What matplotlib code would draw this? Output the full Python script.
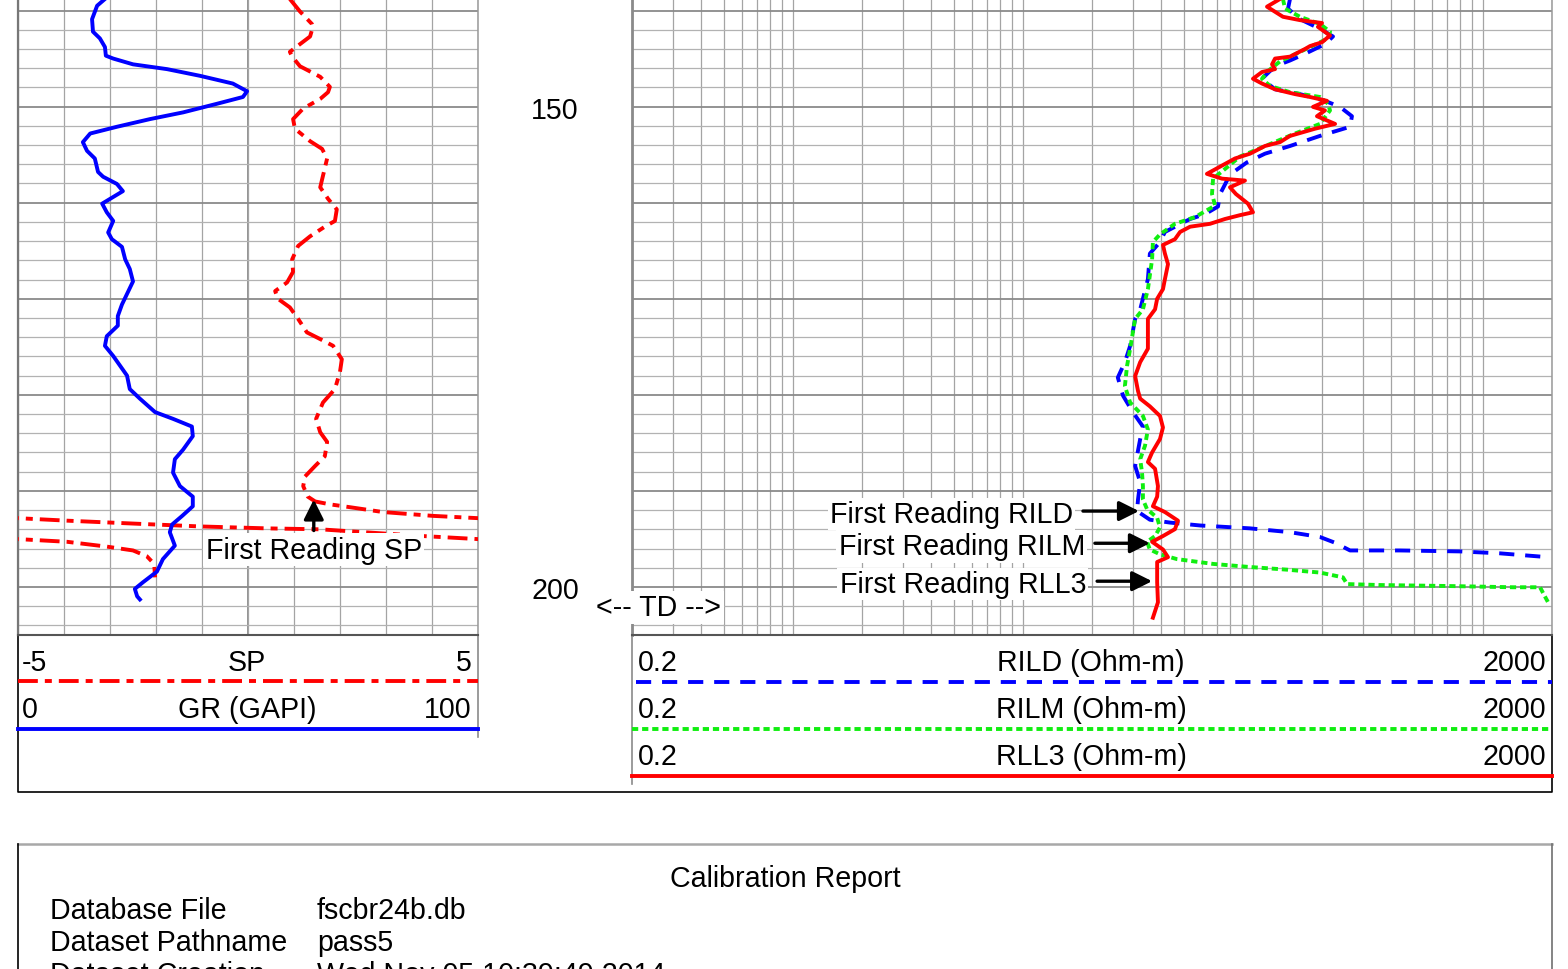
import numpy as np
import matplotlib as mpl
mpl.use('Agg')
import matplotlib.pyplot as plt
from matplotlib.ticker import MultipleLocator, FixedLocator

plt.rcParams['font.family'] = ['Liberation Sans', 'DejaVu Sans']
plt.rcParams['font.size'] = 20.6

# ---- log data (depth, value) ----
gr_depth = [138.8, 139.5, 140.9, 142.2, 142.9, 143.8, 144.7, 145.0, 145.6, 146.1, 146.8, 147.6, 148.4,
            149.0, 149.7, 150.6, 151.3, 152.1, 152.8, 153.7, 154.6, 155.4, 156.8, 157.3, 158.05, 158.8,
            160.1, 161.0, 161.9, 163.1, 163.8, 164.6, 165.9, 166.9, 168.2, 169.3, 170.6, 171.8, 172.8,
            173.9, 174.9, 175.96, 178.0, 179.4, 180.4, 181.8, 182.5, 183.3, 184.3, 185.7, 186.7, 188.1,
            189.5, 190.6, 191.6, 192.6, 193.5, 194.3, 195.7, 197.1, 198.4, 199.5, 200.2, 200.97, 201.3]
gr_api = [18.9, 17.2, 16.1, 16.3, 17.8, 18.9, 19.1, 20.7, 25.0, 32.4, 39.6, 46.7, 49.8,
          48.9, 43.3, 35.9, 28.7, 21.5, 15.7, 14.1, 15.0, 16.7, 17.4, 18.5, 21.5, 22.8,
          18.3, 19.3, 20.7, 19.6, 20.4, 22.6, 23.3, 24.3, 25.0, 23.9, 22.6, 21.7, 21.7,
          19.3, 18.9, 20.7, 23.7, 24.3, 26.5, 29.8, 33.7, 37.8, 38.0, 35.9, 34.1, 33.7,
          35.2, 38.0, 38.0, 35.7, 33.5, 33.0, 34.1, 31.5, 30.2, 27.2, 25.4, 25.9, 26.5]

sp_depth = [138.8, 140.1, 141.4, 141.7, 142.7, 143.5, 144.3, 144.8, 145.8, 146.9, 147.95, 148.5, 149.2,
            150.2, 151.3, 152.3, 153.6, 154.4, 155.4, 157.2, 158.4, 159.6, 160.7, 161.9, 162.5, 163.5,
            164.5, 165.9, 167.2, 168.3, 169.2, 170.0, 170.9, 172.1, 173.5, 174.2, 174.9, 176.3, 177.6,
            179.4, 180.8, 182.5, 183.9, 184.9, 186.4, 187.4, 188.5, 189.5, 190.6, 191.1, 191.4, 191.7,
            192.2, 192.6, 193.1, 193.4, 193.7, 193.9, 194.0, 194.7, 195.3, 195.8, 196.2, 196.8, 197.6, 199.0]
sp_mv = [0.91, 1.13, 1.39, 1.41, 1.35, 1.13, 0.91, 0.96, 1.13, 1.57, 1.78, 1.74, 1.57,
         1.20, 0.98, 1.02, 1.35, 1.61, 1.72, 1.63, 1.57, 1.74, 1.93, 1.89, 1.67, 1.35,
         1.09, 0.96, 0.98, 0.85, 0.59, 0.65, 0.91, 1.09, 1.28, 1.57, 1.85, 2.04, 2.00,
         1.89, 1.63, 1.48, 1.57, 1.72, 1.67, 1.46, 1.24, 1.20, 1.30, 1.46, 1.78, 2.22,
         2.93, 4.02, 6.07, 7.50, 8.96, 10.41, 11.57, 13.80, 16.07, 16.93, 17.50, 17.80, 17.96, 17.98]

rild_depth = [138.8, 139.8, 140.9, 141.9, 142.7, 143.5, 144.5, 145.2, 145.6, 146.3, 147.1, 148.2, 148.7,
              149.4, 150.03, 151.0, 152.1, 153.05, 154.1, 154.9, 155.8, 156.7, 157.5, 159.1, 160.4,
              161.2, 161.7, 163.05, 164.1, 165.3, 167.96, 171.1, 172.1, 174.9, 176.6, 178.2, 180.1,
              181.8, 183.3, 184.6, 187.4, 189.1, 190.9, 192.1, 193.0, 193.3, 193.6, 193.9, 194.3,
              194.8, 195.4, 196.2, 196.2, 196.3, 196.5, 196.9]
rild_ohmm = [145.2, 142.3, 160.4, 196, 223.3, 206, 168.8, 145.2, 131.3, 118.8, 109.7, 125, 160.4,
             206, 239.4, 269.9, 264.8, 196, 145.2, 113, 94.4, 83.7, 78.0, 72.1, 70.6,
             62.0, 53.4, 41.5, 39.5, 35.7, 35.0, 32.4, 30.8, 29.3, 27.8, 25.9, 27.3,
             30.1, 33.3, 32.4, 30.8, 32.4, 31.7, 31.4, 35.7, 43.7, 59.0, 97.3, 145.2,
             196, 228, 264.8, 436.7, 796, 1188, 1923]

rilm_depth = [138.8, 139.8, 140.65, 141.4, 142.2, 142.9, 143.7, 144.8, 145.3, 146.3, 147.1, 147.85, 148.5,
              149.0, 149.7, 150.4, 151.8, 152.8, 153.9, 155.2, 156.5, 157.5, 159.1, 160.3, 161.5,
              162.2, 163.3, 164.1, 165.9, 169.0, 171.1, 172.1, 175.2, 177.0, 179.1, 180.8, 182.2,
              183.6, 185.3, 186.7, 188.1, 189.5, 190.9, 191.9, 192.8, 193.8, 194.7, 195.3, 196.1,
              196.6, 197.1, 197.6, 197.9, 198.2, 198.5, 199.0, 199.7, 199.8, 199.9, 200.03, 200.03, 201.6]
rilm_ohmm = [135.3, 138.1, 160.4, 196, 216.7, 212.3, 181.1, 145.2, 131.3, 116.4, 109.7, 118.8, 145.2,
             196, 212.3, 216.7, 196, 152.7, 118.8, 88, 75.7, 67.2, 66.5, 68.6, 56.1,
             45.9, 39.5, 36.8, 36.5, 35.0, 33.3, 30.8, 29.3, 28.4, 27.8, 29.3, 33.3,
             35.0, 34.0, 32.4, 33.0, 33.3, 33.3, 34.7, 38.4, 39.5, 37.6, 34.7, 35.7,
             39.5, 46.8, 67.2, 94.4, 140.9, 196, 246.7, 257.0, 357.3, 698.8, 1352, 1774, 1923]

rll3_depth = [138.8, 139.6, 140.65, 141.0, 141.3, 141.7, 142.6, 143.3, 143.7, 144.0, 144.8, 145.0, 145.6,
              146.1, 146.4, 147.1, 147.6, 148.2, 148.7, 149.0, 149.4, 150.03, 150.4, 151.0, 151.8,
              152.3, 153.05, 153.7, 154.1, 154.9, 155.4, 155.97, 157.0, 157.5, 157.7, 158.4, 159.1,
              160.1, 161.0, 161.3, 161.7, 162.2, 162.5, 163.05, 163.8, 164.4, 165.3, 166.4, 167.96,
              169.0, 170.0, 171.1, 172.1, 175.2, 176.6, 178.05, 179.6, 180.4, 181.2, 182.2, 183.4,
              184.6, 186.0, 187.0, 187.7, 189.5, 190.6, 191.6, 192.2, 193.1, 193.98, 194.7, 195.3,
              196.1, 196.9, 197.4, 199.5, 201.6, 203.2]
rll3_ohmm = [131.3, 115.3, 135.3, 160.4, 200, 192, 216.7, 200, 177.4, 168.8, 145.2, 125, 121.3,
             125, 109.7, 100.2, 109.7, 125, 152.7, 177.4, 210.2, 182.8, 206, 190.2, 228,
             186.6, 145.2, 131.3, 113, 97.3, 83.7, 75.7, 63.2, 73.5, 92.5, 79.6, 84.5,
             95.3, 100.2, 88, 75.7, 65.2, 53.4, 48.3, 45.9, 40.7, 41.5, 42.8, 41.5,
             40.7, 38.4, 37.6, 35.0, 35.0, 32.4, 30.8, 31.7, 32.4, 35.7, 39.5, 40.7,
             39.5, 36.5, 35.0, 37.6, 38.7, 38.4, 36.8, 41.5, 47.3, 45.9, 40.7, 36.5,
             40.7, 42.8, 38.4, 38.4, 38.7, 36.8]

# first readings (depth, value) pointed at by the arrows
sp_first = (190.9, 1.43)
rild_first = (192.1, 32.0)
rilm_first = (195.45, 35.7)
rll3_first = (199.4, 36.5)
td_depth = 201.8
depth_labels = [150, 200]

info_keys = ['Database File', 'Dataset Pathname', 'Dataset Creation']
info_values = ['fscbr24b.db', 'pass5', 'Wed Nov 05 10:39:49 2014']

# ---- styles ----
sp_style = dict(color='red', lw=2.8, linestyle=(0, (5.1, 1.8, 1.8, 1.8)))
gr_style = dict(color='blue', lw=2.8, linestyle='-', solid_joinstyle='round')
rild_style = dict(color='blue', lw=2.8, linestyle=(0, (3.9, 2.8)))
rilm_style = dict(color='#10ee10', lw=2.8, linestyle=(0, (1.6, 1.0)))
rll3_style = dict(color='red', lw=2.8, linestyle='-', solid_joinstyle='round')
arrow_props = dict(arrowstyle='-|>,head_length=1.2,head_width=0.6', color='black', lw=2.4,
                   mutation_scale=10, shrinkA=0, shrinkB=0)
label_box = dict(boxstyle='square,pad=0.08', fc='white', ec='none')
text_dy = 3  # px: the print centres the caps, not the full text box

W, H = 1568, 970
top_depth, bottom_depth = 138.8, 205.0

fig = plt.figure(figsize=(W / 100, H / 100), dpi=100)


def px_axes(x0, y0, x1, y1):
    # axes placed by pixel box measured from the top-left corner
    return fig.add_axes([x0 / W, 1 - y1 / H, (x1 - x0) / W, (y1 - y0) / H])


def depth_grid(ax):
    ax.set_ylim(bottom_depth, top_depth)
    ax.yaxis.set_major_locator(MultipleLocator(10))
    ax.yaxis.set_minor_locator(MultipleLocator(2))
    ax.grid(which='major', axis='y', color='#8a8a8a', lw=1.3)
    ax.grid(which='minor', axis='y', color='#b2b2b2', lw=0.9)
    ax.tick_params(which='both', length=0, labelbottom=False, labelleft=False)
    ax.set_axisbelow(True)
    ax.spines['top'].set_visible(False)
    ax.spines['bottom'].set_color('#555555')
    ax.spines['bottom'].set_linewidth(1.5)
    ax.spines['left'].set_color('#777777')
    ax.spines['left'].set_linewidth(1.6)
    ax.spines['right'].set_color('#999999')
    ax.spines['right'].set_linewidth(1.1)


# page overlay for header and report box (pixel coordinates)
ax_page = fig.add_axes([0, 0, 1, 1])
ax_page.set_xlim(0, W)
ax_page.set_ylim(H, 0)
ax_page.axis('off')

# ---- track 1: SP and GR ----
ax_sp = px_axes(18, 0, 478, 636)
ax_sp.set_xlim(-5, 5)
ax_sp.xaxis.set_major_locator(MultipleLocator(1))
ax_sp.grid(which='major', axis='x', color='#a4a4a4', lw=0.9)
depth_grid(ax_sp)
ax_sp.axvline(0, color='#8a8a8a', lw=1.3, zorder=0.5)

# SP wraps around the track: draw the backup scales too, the axes clip them
for shift in (0, 10, 20):
    ax_sp.plot(np.array(sp_mv) - shift, sp_depth, zorder=3, **sp_style)

ax_sp.annotate('', xy=(sp_first[1], sp_first[0]), xytext=(0, -31), textcoords='offset pixels',
               arrowprops=arrow_props, zorder=4)
ax_sp.annotate('First Reading SP', xy=(sp_first[1], sp_first[0]), xytext=(0, -47 - text_dy),
               textcoords='offset pixels', ha='center', va='center', bbox=label_box, zorder=5)

ax_gr = ax_sp.twiny()
ax_gr.set_xlim(0, 100)
ax_gr.set_ylim(bottom_depth, top_depth)
ax_gr.axis('off')
ax_gr.plot(gr_api, gr_depth, zorder=3, **gr_style)

# ---- depth track ----
ax_depth = px_axes(478, 0, 632, 636)
ax_depth.set_ylim(bottom_depth, top_depth)
ax_depth.axis('off')
ax_depth.set_zorder(5)
ytr = ax_depth.get_yaxis_transform()
for d in depth_labels:
    ax_depth.annotate(str(d), xy=(0.5, d), xycoords=ytr, xytext=(0, -text_dy),
                      textcoords='offset pixels', ha='center', va='center')
ax_depth.annotate('<-- TD -->', xy=(1.175, td_depth), xycoords=ytr, xytext=(0, -text_dy),
                  textcoords='offset pixels', ha='center', va='center', bbox=label_box,
                  annotation_clip=False)

# ---- track 2: resistivity, log scale ----
ax_res = px_axes(632, 0, 1552, 636)
ax_res.set_xscale('log')
ax_res.set_xlim(0.2, 2000)
ax_res.xaxis.set_major_locator(FixedLocator([m * 10.0 ** e for e in range(-1, 4) for m in range(1, 10)]))
ax_res.xaxis.set_minor_locator(FixedLocator([]))
ax_res.grid(which='major', axis='x', color='#a4a4a4', lw=0.9)
depth_grid(ax_res)
ax_res.spines['left'].set_linewidth(2.0)
ax_res.spines['left'].set_color('#8a8a8a')

ax_res.plot(rild_ohmm, rild_depth, zorder=3, **rild_style)
ax_res.plot(rilm_ohmm, rilm_depth, zorder=3, **rilm_style)
ax_res.plot(rll3_ohmm, rll3_depth, zorder=3, **rll3_style)

for (d, v), name, tail, gap in [(rild_first, 'RILD', 56, 66), (rilm_first, 'RILM', 55, 65),
                                (rll3_first, 'RLL3', 55, 66)]:
    ax_res.annotate('', xy=(v, d), xytext=(-tail, 0), textcoords='offset pixels',
                    arrowprops=arrow_props, zorder=4)
    ax_res.annotate('First Reading ' + name, xy=(v, d), xytext=(-gap, -text_dy),
                    textcoords='offset pixels', ha='right', va='center', bbox=label_box, zorder=5)

# ---- header ----
ax_page.plot([18, 18, 1552, 1552], [636, 793, 793, 636], color='black', lw=1.2)
ax_page.plot([478, 478], [636, 738], color='#8a8a8a', lw=1.2)
ax_page.plot([632, 632], [636, 785], color='#8a8a8a', lw=1.2)

ax_page.plot([18, 478], [682, 682], **sp_style)
ax_page.plot([18, 478], [730, 730], **gr_style)
for y, txt in [(660, ('-5', 'SP', '5')), (707, ('0', 'GR (GAPI)', '100'))]:
    ax_page.text(22, y + text_dy, txt[0], ha='left', va='center')
    ax_page.text(247, y + text_dy, txt[1], ha='center', va='center')
    ax_page.text(472, y + text_dy, txt[2], ha='right', va='center')

for y, name, style in [(660, 'RILD (Ohm-m)', rild_style), (707, 'RILM (Ohm-m)', rilm_style),
                       (754, 'RLL3 (Ohm-m)', rll3_style)]:
    ax_page.text(638, y + text_dy, '0.2', ha='left', va='center')
    ax_page.text(1091, y + text_dy, name, ha='center', va='center')
    ax_page.text(1546, y + text_dy, '2000', ha='right', va='center')
    ax_page.plot([636 if y == 660 else 632, 1552], [y + 22.5, y + 22.5], **style)

# ---- calibration report box ----
ax_page.plot([18, 1552], [845, 845], color='#a8a8a8', lw=1.8)
ax_page.plot([18, 18], [845, 975], color='black', lw=1.2)
ax_page.plot([1552, 1552], [845, 975], color='#707070', lw=1.2)
ax_page.text(785, 876 + text_dy, 'Calibration Report', ha='center', va='center')
for i, (k, v) in enumerate(zip(info_keys, info_values)):
    ax_page.text(50, 908 + 32 * i + text_dy, k, ha='left', va='center')
    ax_page.text(317, 908 + 32 * i + text_dy, v, ha='left', va='center')

plt.savefig('out.png', dpi=100, facecolor='white')
